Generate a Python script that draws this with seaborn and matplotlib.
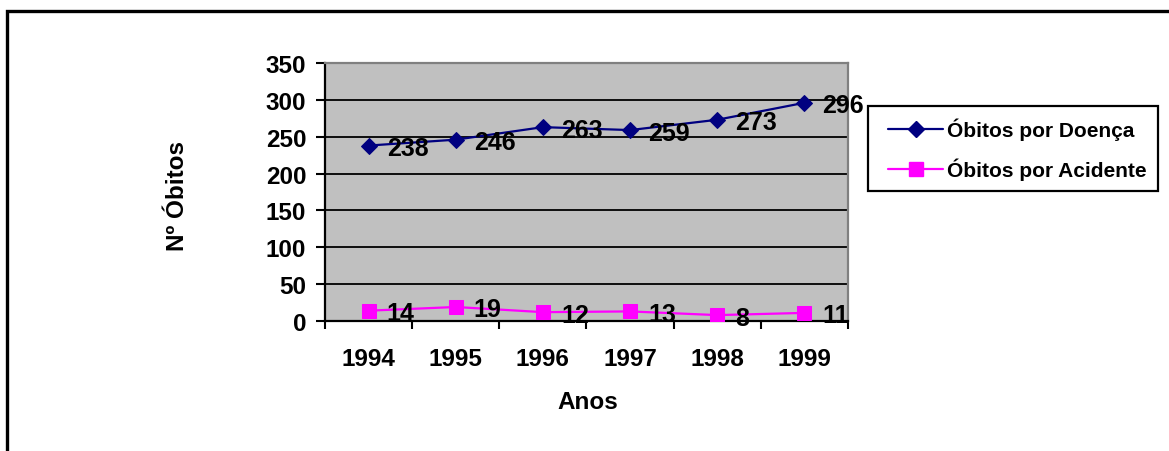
import matplotlib
matplotlib.use("Agg")
import matplotlib.pyplot as plt
from matplotlib.patches import Rectangle
from matplotlib.lines import Line2D
import seaborn as sns
import pandas as pd

# Dados
anos = ["1994", "1995", "1996", "1997", "1998", "1999"]
obitos_doenca = [238, 246, 263, 259, 273, 296]
obitos_acidente = [14, 19, 12, 13, 8, 11]
serie_doenca = "Óbitos por Doença"
serie_acidente = "Óbitos por Acidente"
y_ticks = [0, 50, 100, 150, 200, 250, 300, 350]

sns.set_theme(style="white")
plt.rcParams["font.family"] = ["Liberation Sans", "DejaVu Sans"]
plt.rcParams["font.weight"] = "bold"
for k in ["text.color", "axes.labelcolor", "xtick.color", "ytick.color"]:
    plt.rcParams[k] = "black"

W, H = 1169, 452
fig = plt.figure(figsize=(W / 100, H / 100), dpi=100)
fig.patch.set_facecolor("white")

# Moldura exterior do gráfico
fig.patches.append(Rectangle((7 / W, -0.2), 1.2, 0.2 + 1 - 12 / H,
                             transform=fig.transFigure, fill=False,
                             edgecolor="black", linewidth=2.4, zorder=0))

left, right, bottom, top = 325, 848, 322, 64
ax = fig.add_axes([left / W, 1 - bottom / H, (right - left) / W, (bottom - top) / H])
ax.set_facecolor("#C0C0C0")

df = pd.DataFrame({"Ano": anos * 2,
                   "Óbitos": obitos_doenca + obitos_acidente,
                   "Série": [serie_doenca] * len(anos) + [serie_acidente] * len(anos)})

cores = {serie_doenca: "#000080", serie_acidente: "#FF00FF"}
marcadores = {serie_doenca: "D", serie_acidente: "s"}
tamanhos = {serie_doenca: 8.5, serie_acidente: 10}

for serie in [serie_doenca, serie_acidente]:
    sub = df[df["Série"] == serie]
    sns.lineplot(data=sub, x="Ano", y="Óbitos", ax=ax, color=cores[serie],
                 marker=marcadores[serie], markersize=tamanhos[serie],
                 markeredgecolor=cores[serie], linewidth=1.6, zorder=3,
                 legend=False)
    for i, v in enumerate(sub["Óbitos"]):
        ax.annotate(str(v), xy=(i, v), xytext=(13, 0), textcoords="offset points",
                    ha="left", va="center_baseline", fontsize=18, fontweight="bold",
                    color="black", zorder=4)

ax.set_xlim(-0.5, len(anos) - 0.5)
ax.set_ylim(0, 350)
ax.set_yticks(y_ticks)
ax.set_yticklabels([str(t) for t in y_ticks], fontsize=17.5, fontweight="bold")
ax.set_xticks(range(len(anos)))
ax.set_xticklabels(anos, fontsize=17.5, fontweight="bold")
ax.set_xticks([i - 0.5 for i in range(len(anos) + 1)], minor=True)
ax.tick_params(axis="x", which="major", length=0, pad=19)
ax.tick_params(axis="x", which="minor", length=6, width=1.5, color="black", direction="out", bottom=True)
ax.tick_params(axis="y", which="major", length=6.5, width=1.5, color="black", direction="out", left=True, pad=7)
ax.set_xlabel("")
ax.set_ylabel("")

ax.grid(axis="y", color="black", linewidth=1.3, zorder=1)
ax.set_axisbelow(True)
for s in ["left", "bottom"]:
    ax.spines[s].set_color("black")
    ax.spines[s].set_linewidth(1.6)
for s in ["top", "right"]:
    ax.spines[s].set_color("#808080")
    ax.spines[s].set_linewidth(1.6)

fig.text(588 / W, 1 - 403 / H, "Anos", ha="center", va="center",
         fontsize=17.5, fontweight="bold", color="black")
fig.text(178 / W, 1 - 196 / H, "Nº Óbitos", ha="center", va="center",
         rotation=90, fontsize=17.5, fontweight="bold", color="black")

# Legenda: caixa desenhada à parte, entradas sem moldura
fig.patches.append(Rectangle((868 / W, 1 - 192 / H), (1158 - 868) / W, (192 - 107) / H,
                             transform=fig.transFigure, fill=True, facecolor="white",
                             edgecolor="black", linewidth=1.6, zorder=1))
handles = [Line2D([], [], color=cores[s], marker=marcadores[s], markersize=tamanhos[s] * 0.95,
                  linewidth=1.6) for s in [serie_doenca, serie_acidente]]
leg = fig.legend(handles, [serie_doenca, serie_acidente], loc="upper left",
                 bbox_to_anchor=(888 / W, 1 - 118.5 / H), borderaxespad=0,
                 prop={"family": "Liberation Sans", "weight": "bold", "size": 15},
                 frameon=False, handlelength=2.64, handletextpad=0.19,
                 labelspacing=0.85, borderpad=0)
for t in leg.get_texts():
    t.set_color("black")

fig.savefig("out.png", dpi=100, facecolor="white")
